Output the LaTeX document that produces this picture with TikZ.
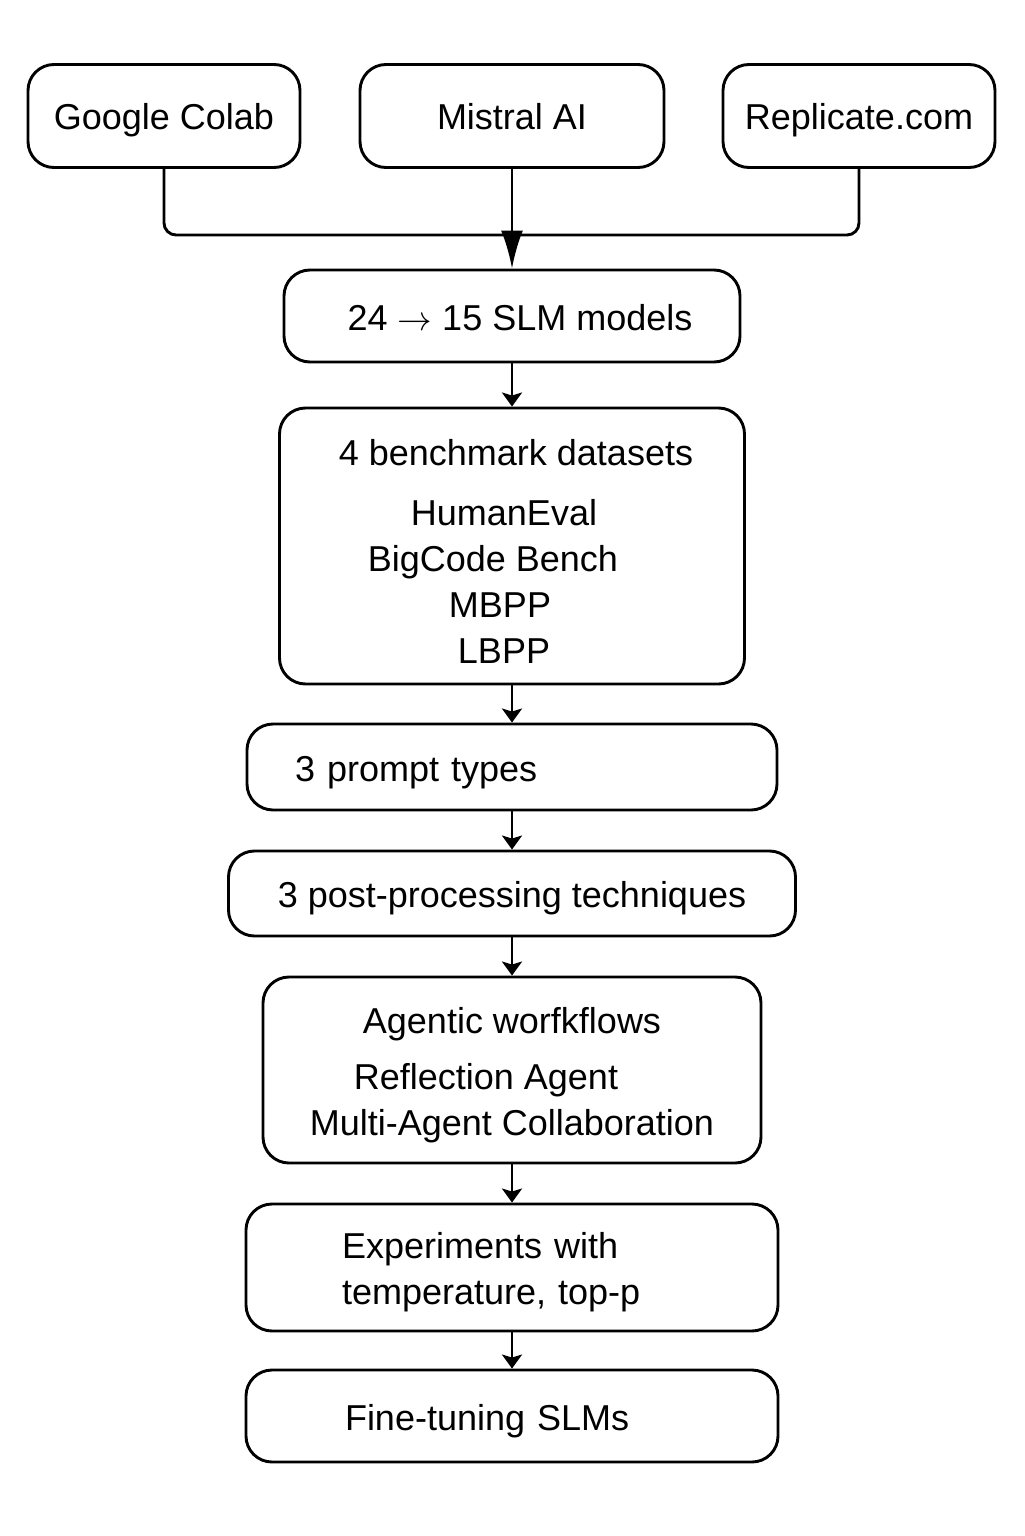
\documentclass[tikz,border=0pt]{standalone}
\usepackage{fontspec}
\setmainfont{Liberation Sans}
\usetikzlibrary{arrows.meta}
\newcommand\tstrut{\rule[-4pt]{0pt}{22pt}}

\begin{document}
\begin{tikzpicture}[x=0.5pt,y=-0.5pt]
            \useasboundingbox (0,0) rectangle (1024,1536);
            \begin{scope}[every node/.style={draw,rounded corners=13pt,line width=1.45pt,
                          inner sep=0pt,align=center,font=\fontsize{18}{23}\selectfont}]
                \node[minimum width=136pt,minimum height=51.5pt] (gc) at (164,116) {\tstrut Google Colab};
                \node[minimum width=152pt,minimum height=51.5pt] (mi) at (512,116) {\tstrut Mistral AI};
                \node[minimum width=136pt,minimum height=51.5pt] (rp) at (859,116) {\tstrut Replicate.com};
                \node[minimum width=228pt,minimum height=46pt] (slm) at (512,316) {\tstrut\hspace{8pt}24 $\rightarrow$ 15 SLM models};
                \node[minimum width=232.5pt,minimum height=138pt] (bench) at (512,546)
                    {\tstrut\kern4pt 4 benchmark datasets\\[7pt] HumanEval\kern8pt\\ BigCode Bench\kern19pt\\ MBPP\kern12pt\\ LBPP\kern8pt};
                \node[minimum width=265pt,minimum height=43pt,text width=217pt,align=left] (pt) at (512,767) {\tstrut 3 prompt types};
                \node[minimum width=283.5pt,minimum height=42.5pt] (pp) at (512,893.5) {\tstrut 3 post-processing techniques};
                \node[minimum width=249pt,minimum height=93pt] (ag) at (512,1070)
                    {\tstrut Agentic worfkflows\\[5pt] Reflection Agent\kern26pt\\ Multi-Agent Collaboration};
                \node[minimum width=266pt,minimum height=63.5pt,text width=170pt,align=left] (ex) at (512,1267.5)
                    {\tstrut Experiments with\\ temperature, top-p};
                \node[minimum width=266pt,minimum height=46pt,text width=167pt,align=left] (ft) at (512,1416) {\tstrut Fine-tuning SLMs};
            \end{scope}

            \coordinate (jn) at (512,235);
            \draw[line width=1.45pt,rounded corners=6pt] (gc.south) |- (jn) -| (rp.south);
            \draw[line width=1.45pt,-{Latex[length=19pt,width=11pt]}] (mi.south) -- (slm.north);

            \begin{scope}[>={Stealth[length=7pt,width=10pt,inset=1.5pt]},
                          every edge/.style={draw=black,line width=1.45pt}]
                \path [->] (slm) edge (bench);
                \path [->] (bench) edge (pt);
                \path [->] (pt) edge (pp);
                \path [->] (pp) edge (ag);
                \path [->] (ag) edge (ex);
                \path [->] (ex) edge (ft);
            \end{scope}
\end{tikzpicture}
\end{document}
